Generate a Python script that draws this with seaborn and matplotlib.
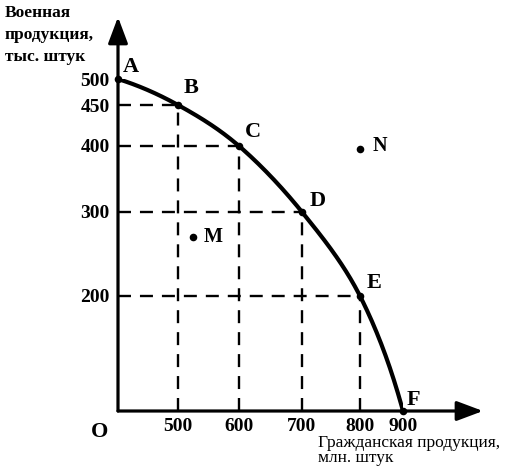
import numpy as np
import pandas as pd
import matplotlib
matplotlib.use("Agg")
import matplotlib.pyplot as plt
import seaborn as sns

# ---------------- data ----------------
point_names = ["A", "B", "C", "D", "E", "F"]
civil = [0, 500, 600, 700, 800, 900]        # гражданская продукция, млн. штук
military = [500, 450, 400, 300, 200, 0]     # военная продукция, тыс. штук
other_names = ["M", "N"]
other_civil = [525, 800]
other_military = [270, 395]
x_ticks = [500, 600, 700, 800, 900]
y_ticks = [200, 300, 400, 450, 500]
x_label = "Гражданская продукция,\nмлн. штук"
y_label = "Военная\nпродукция,\nтыс. штук"
origin_label = "O"

# ---------------- schematic (non-uniform) axis scales ----------------
x_knots, x_pos = [0, 500, 600, 700, 800, 900], [0, 60, 121, 184, 242, 285]
y_knots, y_pos = [0, 200, 300, 400, 450, 500], [0, 115, 199, 265, 306, 332]


def make_interp(xk, yk):
    xk = np.asarray(xk, float)
    yk = np.asarray(yk, float)
    s0 = (yk[1] - yk[0]) / (xk[1] - xk[0])
    s1 = (yk[-1] - yk[-2]) / (xk[-1] - xk[-2])

    def f(v):
        v = np.asarray(v, float)
        out = np.interp(v, xk, yk)
        out = np.where(v < xk[0], yk[0] + (v - xk[0]) * s0, out)
        out = np.where(v > xk[-1], yk[-1] + (v - xk[-1]) * s1, out)
        return out
    return f


fx, fx_inv = make_interp(x_knots, x_pos), make_interp(x_pos, x_knots)
fy, fy_inv = make_interp(y_knots, y_pos), make_interp(y_pos, y_knots)

sns.set_theme(style="white")
plt.rcParams["font.family"] = ["Liberation Serif", "DejaVu Serif"]

W, H = 523, 470
fig = plt.figure(figsize=(W / 100, H / 100), dpi=100)
ox, oy = 118, 411
ax = fig.add_axes([ox / W, (H - oy) / H, 285 / W, 332 / H])
ax.set_xscale("function", functions=(fx, fx_inv))
ax.set_yscale("function", functions=(fy, fy_inv))
ax.set_xlim(0, 900)
ax.set_ylim(0, 500)
for s in ax.spines.values():
    s.set_visible(False)

# dashed guide lines to points B..E
dash_kw = dict(color="black", lw=1.7, dashes=(5.5, 3.8), zorder=1)
for cx, my in zip(civil[1:5], military[1:5]):
    ax.plot([0, cx], [my, my], **dash_kw)
    ax.plot([cx, cx], [0, my], **dash_kw)

# smooth frontier: cubic Hermite through the points in display space
P = np.column_stack([fx(civil), fy(military)])
n = len(P)
T = np.zeros_like(P)
for i in range(1, n - 1):
    T[i] = (P[i + 1] - P[i - 1]) / 2
T[0] = 2 * (P[1] - P[0]) - T[1]
T[-1] = 2 * (P[-1] - P[-2]) - T[-2]
t = np.linspace(0, 1, 50)[:, None]
h00 = 2 * t ** 3 - 3 * t ** 2 + 1
h10 = t ** 3 - 2 * t ** 2 + t
h01 = -2 * t ** 3 + 3 * t ** 2
h11 = t ** 3 - t ** 2
curve = []
for i in range(n - 1):
    seg = h00 * P[i] + h10 * T[i] + h01 * P[i + 1] + h11 * T[i + 1]
    curve.append(seg if i == 0 else seg[1:])
curve = np.vstack(curve)
df_curve = pd.DataFrame({"civil": fx_inv(curve[:, 0]), "military": fy_inv(curve[:, 1])})
sns.lineplot(data=df_curve, x="civil", y="military", sort=False, estimator=None,
             color="black", lw=3.0, ax=ax, zorder=3)

# points
df_pts = pd.DataFrame({"civil": civil + other_civil, "military": military + other_military})
sns.scatterplot(data=df_pts, x="civil", y="military", color="black", s=30,
                edgecolor="black", linewidth=0, ax=ax, zorder=4, clip_on=False)

# axes with arrows
arrow_kw = dict(arrowstyle="-|>,head_length=0.8,head_width=0.3", lw=2.3, color="black",
                shrinkA=0, shrinkB=0, mutation_scale=20)
ax.annotate("", xy=((483 - ox) / 285, 0), xytext=(0, 0), xycoords="axes fraction",
            arrowprops=arrow_kw, zorder=5)
ax.annotate("", xy=(0, (oy - 17) / 332), xytext=(0, 0), xycoords="axes fraction",
            arrowprops=arrow_kw, zorder=5)

# point labels
offsets = {"A": (13, 12), "B": (13, 17), "C": (14, 14), "D": (16, 11), "E": (14, 13),
           "F": (10, 11), "M": (20, 0), "N": (20, 3)}
for name, cx, my in zip(point_names + other_names, civil + other_civil, military + other_military):
    dx, dy = offsets[name]
    ax.annotate(name, (cx, my), xytext=(dx * 0.72, dy * 0.72), textcoords="offset points",
                ha="center", va="center", fontsize=16 if name not in other_names else 14.5,
                fontweight="bold", color="black", annotation_clip=False)

# ticks
ax.set_xticks(x_ticks)
ax.set_xticklabels([str(v) for v in x_ticks])
ax.set_yticks(y_ticks)
ax.set_yticklabels([str(v) for v in y_ticks])
ax.tick_params(axis="both", length=0, labelsize=14, colors="black")
ax.tick_params(axis="x", pad=5)
ax.tick_params(axis="y", pad=6)
for lab in ax.get_xticklabels() + ax.get_yticklabels():
    lab.set_fontweight("bold")
ax.set_xlabel("")
ax.set_ylabel("")

# axis titles
fig.text(5 / W, 1 - 5 / H, y_label, ha="left", va="top", fontsize=12.5,
         fontweight="bold", linespacing=1.5, color="black")
fig.text(318 / W, 1 - 435 / H, x_label, ha="left", va="top", fontsize=12.5,
         linespacing=0.95, color="black")
fig.text(100 / W, 1 - 432 / H, origin_label, ha="center", va="center", fontsize=16,
         fontweight="bold", color="black")

fig.savefig("out.png", dpi=100)
